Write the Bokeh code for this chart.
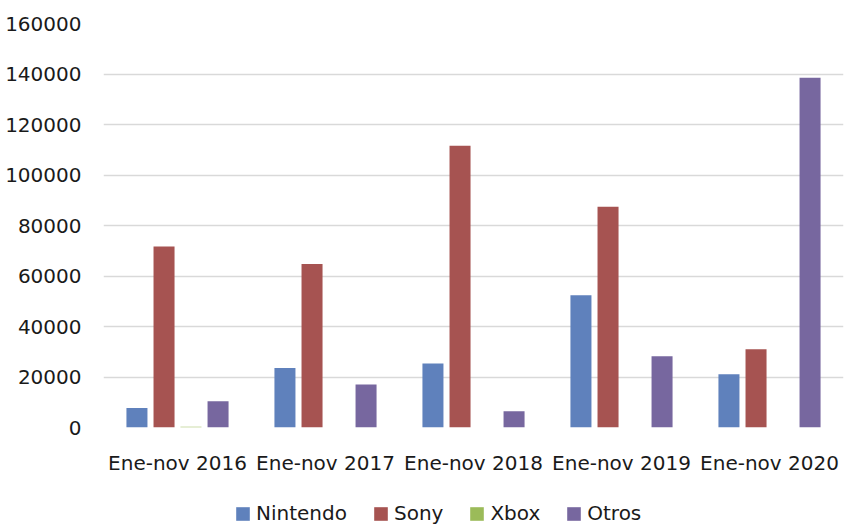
from bokeh.plotting import figure
from bokeh.layouts import column
from bokeh.models import FactorRange, ColumnDataSource, Legend, LegendItem, SingleIntervalTicker, NumeralTickFormatter
from bokeh.transform import dodge
from bokeh.embed import file_html
from bokeh.resources import INLINE

periods = ["Ene-nov 2016", "Ene-nov 2017", "Ene-nov 2018", "Ene-nov 2019", "Ene-nov 2020"]
nintendo = [7700, 23600, 25300, 52400, 21100]
sony = [71700, 64800, 111600, 87400, 31000]
xbox = [300, 0, 0, 0, 0]
otros = [10400, 17000, 6400, 28200, 138500]
series_names = ["Nintendo", "Sony", "Xbox", "Otros"]
colors = ["#5f81bc", "#a65351", "#9bbb59", "#77679f"]

src = ColumnDataSource(dict(period=periods, Nintendo=nintendo, Sony=sony, Xbox=xbox, Otros=otros))

FONT = "DejaVu Sans"

p = figure(x_range=FactorRange(*periods, range_padding=0), y_range=(0, 160000),
           width=850, height=480, output_backend="svg", toolbar_location=None,
           min_border_left=103, min_border_right=7, min_border_top=23, min_border_bottom=53)

offsets = [-0.274, -0.091, 0.091, 0.274]
for name, col, off in zip(series_names, colors, offsets):
    p.vbar(x=dodge("period", off, range=p.x_range), top=name, width=0.142, source=src,
           fill_color=col, line_color=None)

p.outline_line_color = None
p.background_fill_color = "white"
p.border_fill_color = "white"
p.xgrid.grid_line_color = None
p.ygrid.grid_line_color = "#d9d9d9"
p.ygrid.grid_line_width = 1.3
p.yaxis.ticker = SingleIntervalTicker(interval=20000)
p.yaxis.formatter = NumeralTickFormatter(format="0")
p.yaxis.axis_line_color = None
p.yaxis.major_tick_line_color = None
p.yaxis.minor_tick_line_color = None
p.yaxis.major_label_standoff = 16
p.xaxis.axis_line_color = None
p.xaxis.major_tick_line_color = None
p.xaxis.minor_tick_line_color = None
p.xaxis.major_label_standoff = 17
for ax in (p.xaxis, p.yaxis):
    ax.major_label_text_font = FONT
    ax.major_label_text_font_size = "20px"
    ax.major_label_text_color = "#1a1a1a"

# legend strip below the chart (proxy renderers lie outside the strip's visible range)
lf = figure(width=850, height=48, output_backend="svg", toolbar_location=None,
            x_range=(0, 1), y_range=(0, 1), x_axis_type=None, y_axis_type=None, min_border=0)
lf.outline_line_color = None
lf.xgrid.visible = False
lf.ygrid.visible = False
lrs = []
for name, col in zip(series_names, colors):
    lrs.append(lf.vbar(x=[-5], top=[-5], bottom=[-6], width=0.1, fill_color=col, line_color=None))

legend = Legend(items=[LegendItem(label=n, renderers=[r]) for n, r in zip(series_names, lrs)],
                orientation="horizontal", location=(131, 3), border_line_color=None,
                background_fill_alpha=0, glyph_width=17, glyph_height=17, label_height=20,
                label_standoff=5, spacing=25, padding=0, margin=0,
                label_text_font=FONT, label_text_font_size="20px", label_text_color="#1a1a1a")
lf.add_layout(legend, "center")

layout = column(p, lf, spacing=0)
open("out.html", "w").write(file_html(layout, INLINE))
